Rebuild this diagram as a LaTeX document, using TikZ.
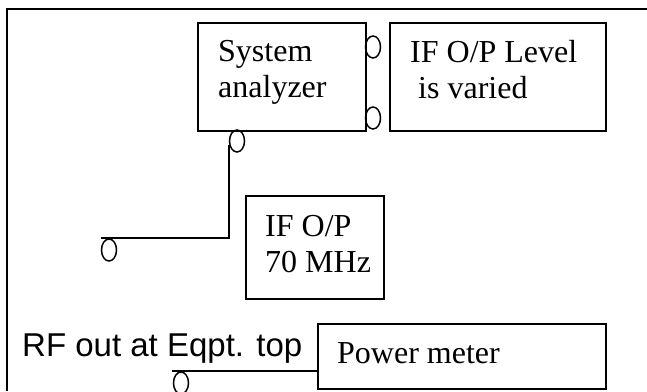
\documentclass[tikz,border=0pt]{standalone}
\usepackage{fontspec}
\setmainfont{Liberation Serif}
\newfontfamily\arialfont{Liberation Sans}
\usetikzlibrary{shapes.geometric}
\tikzset{
  unit/.style={draw,line width=1.6pt,inner sep=0pt,anchor=north west},
  txt/.style={font=\fontsize{32}{36}\selectfont,align=left,inner sep=0pt,anchor=north west},
  sanstxt/.style={txt,font=\arialfont\fontsize{33}{38}\selectfont},
  port/.style={draw,ellipse,line width=1.5pt,minimum width=15pt,minimum height=22pt,inner sep=0pt},
  wire/.style={line width=1.6pt},
  frame/.style={line width=2.2pt},
}
\begin{document}
\begin{tikzpicture}[x=1pt,y=-1pt]
\useasboundingbox (0,0) rectangle (647,391);
% outer frame
\draw[frame] (7,391) -- (7,9) -- (647,9);
% units
\node[unit,minimum width=168pt,minimum height=108pt] (sa) at (197,22) {};
\node[txt] (satxt) at (218,40.3) {System\\analyzer};
\node[unit,minimum width=216pt,minimum height=108pt] (lvl) at (389,22) {};
\node[txt] (lvltxt) at (410,40) {IF O/P Level\\\ is varied};
\node[unit,minimum width=138pt,minimum height=103pt] (ifop) at (245,195) {};
\node[txt] (iftxt) at (265,215) {IF O/P\\70 MHz};
\node[unit,minimum width=288pt,minimum height=65pt] (pm) at (317,323) {};
\node[txt] (pmtxt) at (337,342) {Power meter};
\node[sanstxt] (rf) at (22,333.5) {RF out at Eqpt. top};
% ports
\node[port] (p1) at (373,47) {};
\node[port] (p2) at (373,118) {};
\node[port] (p3) at (237,141) {};
\node[port] (p4) at (109,250) {};
\node[port] (p5) at (181,383) {};
% cables
\coordinate (ifend) at (101,238);
\draw[wire] (p3.205) |- (ifend);
\coordinate (rfend) at (172,371);
\draw[wire] (rfend -| pm.west) -- (rfend);
\end{tikzpicture}
\end{document}
